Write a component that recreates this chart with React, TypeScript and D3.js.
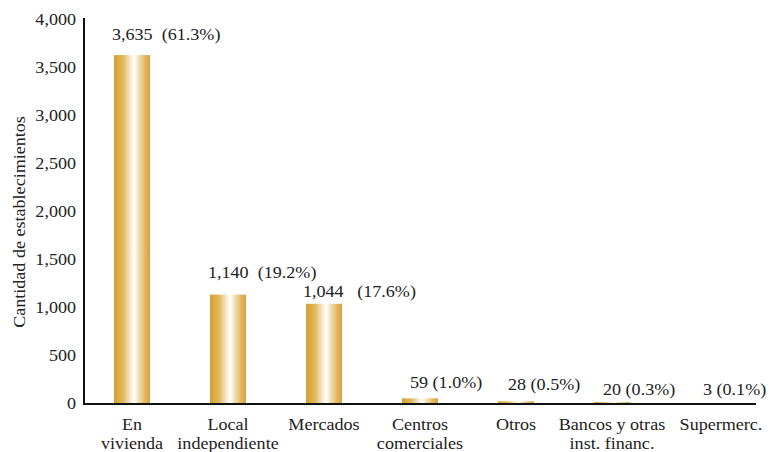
import React from "react";
import * as d3 from "d3";

const categories: string[][] = [
  ["En", "vivienda"],
  ["Local", "independiente"],
  ["Mercados"],
  ["Centros", "comerciales"],
  ["Otros"],
  ["Bancos y otras", "inst. financ."],
  ["Supermerc."],
];
const values: number[] = [3635, 1140, 1044, 59, 28, 20, 3];
const percents: number[] = [61.3, 19.2, 17.6, 1.0, 0.5, 0.3, 0.1];
const yTicks: number[] = [0, 500, 1000, 1500, 2000, 2500, 3000, 3500, 4000];

// label layout (offsets from bar left / bar top, and gap spaces)
const labelDx = [-2, -2, -3, 8, 10, 9, 13];
const labelDy = [-15, -17, -7, -10, -11, -7, -9];
const labelGap = ["  ", "  ", "   ", " ", " ", " ", " "];
const catDx = [0, 0, 0, 0, 0, 0, 13];

const W = 770;
const H = 452;
const left = 84;
const right = 756;
const top = 20;
const bottom = 404;
const SX = 1.13;
const FONT = '"Liberation Serif"';

export default function App() {
  const x = d3
    .scaleBand<number>()
    .domain(values.map((_, i) => i))
    .range([left, right])
    .paddingInner(0.625)
    .paddingOuter(0.3125);
  const y = d3.scaleLinear().domain([0, 4000]).range([bottom, top]);
  const fmt = d3.format(",");

  const T = (props: { x: number; y: number; anchor?: string; children: React.ReactNode; rotate?: boolean }) => (
    <text
      transform={`translate(${props.x},${props.y})${props.rotate ? " rotate(-90)" : ""} scale(${SX},1)`}
      textAnchor={props.anchor || "start"}
      fill="#222"
      style={{ whiteSpace: "pre", fontFamily: FONT, fontSize: "16px" }}
    >
      {props.children}
    </text>
  );

  return (
    <svg width={W} height={H} style={{ position: "absolute", left: 0, top: 0, background: "#fff" }}>
      <defs>
        <linearGradient id="gold" x1="0" x2="1" y1="0" y2="0">
          <stop offset="0%" stopColor="#D3A02E" />
          <stop offset="25%" stopColor="#E0B75E" />
          <stop offset="45%" stopColor="#F6E8C8" />
          <stop offset="56%" stopColor="#FFFFFF" />
          <stop offset="70%" stopColor="#F0DCAE" />
          <stop offset="88%" stopColor="#DDB460" />
          <stop offset="100%" stopColor="#D4A33A" />
        </linearGradient>
      </defs>
      {values.map((v, i) => (
        <rect
          key={i}
          x={x(i)!}
          y={y(v)}
          width={x.bandwidth()}
          height={bottom - y(v)}
          fill="url(#gold)"
        />
      ))}
      <line x1={left} x2={left} y1={top - 2} y2={bottom + 1} stroke="#111" strokeWidth={2} />
      <line x1={left - 1} x2={right} y1={bottom} y2={bottom} stroke="#111" strokeWidth={2} />
      {yTicks.map((t) => (
        <T key={t} x={76} y={y(t) + 5} anchor="end">
          {fmt(t)}
        </T>
      ))}
      {values.map((v, i) => (
        <T key={"l" + i} x={x(i)! + labelDx[i]} y={y(v) + labelDy[i]}>
          {fmt(v) + labelGap[i] + "(" + percents[i].toFixed(1) + "%)"}
        </T>
      ))}
      {categories.map((lines, i) =>
        lines.map((ln, j) => (
          <T
            key={"c" + i + "-" + j}
            x={x(i)! + x.bandwidth() / 2 + catDx[i]}
            y={430 + j * 19}
            anchor="middle"
          >
            {ln}
          </T>
        ))
      )}
      <T x={25} y={222} anchor="middle" rotate>
        Cantidad de establecimientos
      </T>
    </svg>
  );
}
